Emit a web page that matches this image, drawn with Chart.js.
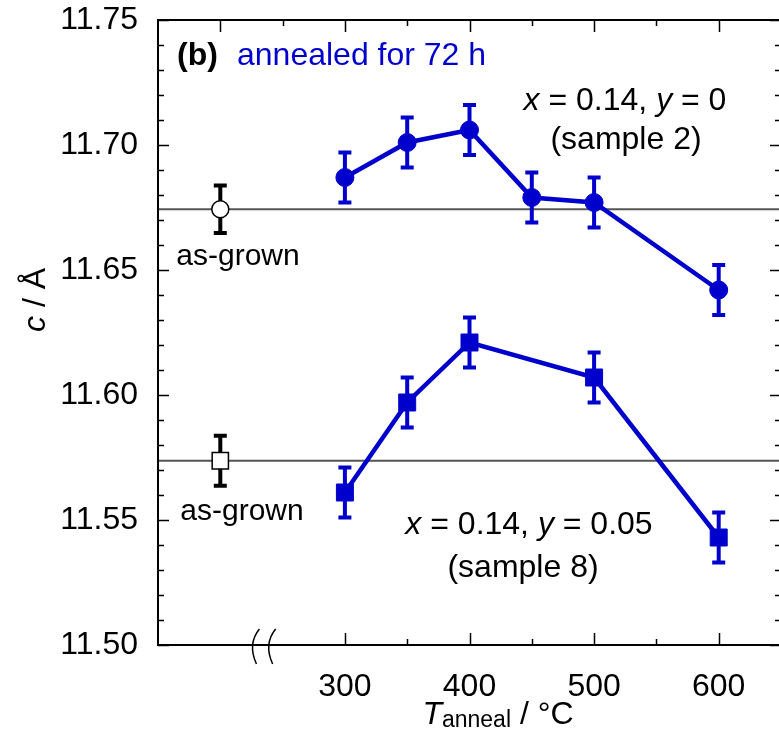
<!DOCTYPE html>
<html>
<head>
    <title>c vs T anneal</title>
    <script src="https://cdn.jsdelivr.net/npm/chart.js"></script>
    <style>
        body { margin: 0; background: #ffffff; }
        .wrap { width: 779px; height: 735px; overflow: hidden; }
    </style>
</head>
<body>
    <div class="wrap">
        <canvas id="chart" width="784" height="735"></canvas>
    </div>

    <script>
        // annealing temperatures (°C)
        const tempsSample2 = [300, 350, 400, 450, 500, 600];
        const tempsSample8 = [300, 350, 400, 500, 600];
        // lattice parameter c (Å)
        const cSample2 = [11.687, 11.701, 11.706, 11.679, 11.677, 11.642];
        const cSample8 = [11.561, 11.597, 11.621, 11.607, 11.543];
        const errSample2 = [0.010, 0.010, 0.010, 0.010, 0.010, 0.010];
        const errSample8 = [0.010, 0.010, 0.010, 0.010, 0.010];
        // as-grown reference values (drawn left of the axis break)
        const asGrownT = 200;
        const cAsGrown2 = 11.6743;
        const cAsGrown8 = 11.5737;
        const errAsGrown2 = 0.0095;
        const errAsGrown8 = 0.010;
        // axis
        const xMin = 150, xMax = 650;
        const yMin = 11.50, yMax = 11.75;
        const xLabelTicks = [300, 400, 500, 600];
        const yLabelTicks = [11.50, 11.55, 11.60, 11.65, 11.70, 11.75];

        const FONT = '"Liberation Sans", Arial, Helvetica, sans-serif';
        const BLUE = '#0000cc';

        function pts(xs, ys) {
            return xs.map((x, i) => ({ x: x, y: ys[i] }));
        }

        // draws text made of several parts with different fonts
        function richText(ctx, parts, cx, y, align) {
            let w = 0;
            parts.forEach(p => { ctx.font = p.font; w += ctx.measureText(p.t).width; });
            let x = align === 'left' ? cx : cx - w / 2;
            parts.forEach(p => {
                ctx.font = p.font;
                ctx.textAlign = 'left';
                ctx.fillText(p.t, x, y + (p.dy || 0));
                x += ctx.measureText(p.t).width;
            });
        }

        const errorBars = {
            id: 'errorBars',
            beforeDatasetDraw(chart, args) {
                const ds = chart.data.datasets[args.index];
                if (!ds.errors) return;
                const ctx = chart.ctx;
                const xs = chart.scales.x, ys = chart.scales.y;
                ctx.save();
                ctx.strokeStyle = ds.errColor;
                ctx.lineWidth = 4;
                ds.data.forEach((p, i) => {
                    const px = xs.getPixelForValue(p.x);
                    const top = ys.getPixelForValue(p.y + ds.errors[i]);
                    const bot = ys.getPixelForValue(p.y - ds.errors[i]);
                    ctx.beginPath();
                    ctx.moveTo(px, top); ctx.lineTo(px, bot);
                    ctx.moveTo(px - 6.5, top); ctx.lineTo(px + 6.5, top);
                    ctx.moveTo(px - 6.5, bot); ctx.lineTo(px + 6.5, bot);
                    ctx.stroke();
                });
                ctx.restore();
            }
        };

        const decor = {
            id: 'decor',
            afterDraw(chart) {
                const ctx = chart.ctx;
                const a = chart.chartArea;
                const xs = chart.scales.x, ys = chart.scales.y;
                ctx.save();
                ctx.strokeStyle = '#000';
                ctx.lineWidth = 2;
                ctx.strokeRect(a.left, a.top, a.right - a.left, a.bottom - a.top);

                // y ticks, inside, both sides
                ctx.lineWidth = 1.5;
                for (let k = 0; k <= 25; k++) {
                    const v = yMin + k * 0.01;
                    const py = Math.round(ys.getPixelForValue(v)) + 0.5;
                    const len = k % 5 === 0 ? 11 : 6;
                    ctx.beginPath();
                    ctx.moveTo(a.left, py); ctx.lineTo(a.left + len, py);
                    ctx.moveTo(a.right, py); ctx.lineTo(a.right - len, py);
                    ctx.stroke();
                }
                // x ticks: top from 200, bottom from 300
                for (let v = 200; v < xMax; v += 50) {
                    const px = Math.round(xs.getPixelForValue(v)) + 0.5;
                    const len = v % 100 === 0 ? 12 : 6;
                    ctx.beginPath();
                    ctx.moveTo(px, a.top); ctx.lineTo(px, a.top + len);
                    if (v >= 300) { ctx.moveTo(px, a.bottom); ctx.lineTo(px, a.bottom - len); }
                    ctx.stroke();
                }
                // axis break marks
                [229, 242].forEach(v => {
                    const px = xs.getPixelForValue(v);
                    ctx.beginPath();
                    ctx.moveTo(px + 3, a.bottom - 16);
                    ctx.bezierCurveTo(px - 6, a.bottom - 5, px - 5, a.bottom + 8, px, a.bottom + 19);
                    ctx.stroke();
                });

                // tick labels
                ctx.fillStyle = '#000';
                ctx.font = '32px ' + FONT;
                ctx.textBaseline = 'middle';
                ctx.textAlign = 'right';
                yLabelTicks.forEach(v => ctx.fillText(v.toFixed(2), a.left - 20, ys.getPixelForValue(v)));
                ctx.textAlign = 'center';
                xLabelTicks.forEach(v => ctx.fillText(String(v), xs.getPixelForValue(v), a.bottom + 42));

                ctx.font = 'bold 32px ' + FONT;
                ctx.textAlign = 'left';
                ctx.fillText('(b)', 177, 56);
                ctx.fillStyle = BLUE;
                ctx.font = '32px ' + FONT;
                ctx.fillText('annealed for 72 h', 237, 56);

                ctx.fillStyle = '#000';
                const it = 'italic 32px ' + FONT, rg = '32px ' + FONT;
                richText(ctx, [{ t: 'x', font: it }, { t: ' = 0.14, ', font: rg }, { t: 'y', font: it }, { t: ' = 0', font: rg }], 625, 101);
                richText(ctx, [{ t: '(sample 2)', font: rg }], 626, 140);
                richText(ctx, [{ t: 'x', font: it }, { t: ' = 0.14, ', font: rg }, { t: 'y', font: it }, { t: ' = 0.05', font: rg }], 529, 525);
                richText(ctx, [{ t: '(sample 8)', font: rg }], 523, 568);
                const sm = '30px ' + FONT;
                richText(ctx, [{ t: 'as-grown', font: sm }], 238, 257);
                richText(ctx, [{ t: 'as-grown', font: sm }], 242, 512);

                // x title
                ctx.textBaseline = 'alphabetic';
                richText(ctx, [
                    { t: 'T', font: it },
                    { t: 'anneal', font: '23px ' + FONT, dy: 3 },
                    { t: ' / °C', font: rg }
                ], 498, 724);

                // y title
                ctx.translate(36, 300);
                ctx.rotate(-Math.PI / 2);
                ctx.textBaseline = 'middle';
                richText(ctx, [{ t: 'c', font: it }, { t: ' / Å', font: rg }], 0, 0);
                ctx.restore();
            }
        };

        const ctx = document.getElementById('chart').getContext('2d');
        const chart = new Chart(ctx, {
            type: 'scatter',
            data: {
                datasets: [
                    {
                        label: 'sample 2',
                        data: pts(tempsSample2, cSample2),
                        errors: errSample2, errColor: BLUE,
                        showLine: true, tension: 0,
                        borderColor: BLUE, borderWidth: 4.5,
                        pointStyle: 'circle', pointRadius: 9,
                        pointBackgroundColor: BLUE, pointBorderColor: BLUE, pointBorderWidth: 1,
                        order: 1
                    },
                    {
                        label: 'sample 8',
                        data: pts(tempsSample8, cSample8),
                        errors: errSample8, errColor: BLUE,
                        showLine: true, tension: 0,
                        borderColor: BLUE, borderWidth: 4.5,
                        pointStyle: 'rect', pointRadius: 12,
                        pointBackgroundColor: BLUE, pointBorderColor: BLUE, pointBorderWidth: 1,
                        order: 2
                    },
                    {
                        label: 'as-grown 2',
                        data: [{ x: asGrownT, y: cAsGrown2 }],
                        errors: [errAsGrown2], errColor: '#000',
                        pointStyle: 'circle', pointRadius: 8.5,
                        pointBackgroundColor: '#fff', pointBorderColor: '#000', pointBorderWidth: 1.5,
                        order: 3
                    },
                    {
                        label: 'as-grown 8',
                        data: [{ x: asGrownT, y: cAsGrown8 }],
                        errors: [errAsGrown8], errColor: '#000',
                        pointStyle: 'rect', pointRadius: 11.5,
                        pointBackgroundColor: '#fff', pointBorderColor: '#000', pointBorderWidth: 1.5,
                        order: 4
                    },
                    {
                        label: 'level 2',
                        data: [{ x: xMin, y: cAsGrown2 }, { x: xMax, y: cAsGrown2 }],
                        showLine: true, borderColor: '#555', borderWidth: 2, pointRadius: 0,
                        order: 10
                    },
                    {
                        label: 'level 8',
                        data: [{ x: xMin, y: cAsGrown8 }, { x: xMax, y: cAsGrown8 }],
                        showLine: true, borderColor: '#555', borderWidth: 2, pointRadius: 0,
                        order: 11
                    }
                ]
            },
            options: {
                responsive: false,
                animation: false,
                devicePixelRatio: 1,
                layout: { autoPadding: false, padding: { top: 20, right: 3, left: 0, bottom: 0 } },
                plugins: { legend: { display: false }, tooltip: { enabled: false } },
                scales: {
                    x: {
                        type: 'linear', min: xMin, max: xMax,
                        grid: { display: false, drawTicks: false },
                        border: { display: false },
                        ticks: { display: false },
                        afterFit: s => { s.height = 90; }
                    },
                    y: {
                        type: 'linear', min: yMin, max: yMax,
                        grid: { display: false, drawTicks: false },
                        border: { display: false },
                        ticks: { display: false },
                        afterFit: s => { s.width = 158; }
                    }
                }
            },
            plugins: [errorBars, decor]
        });
    </script>
</body>
</html>
